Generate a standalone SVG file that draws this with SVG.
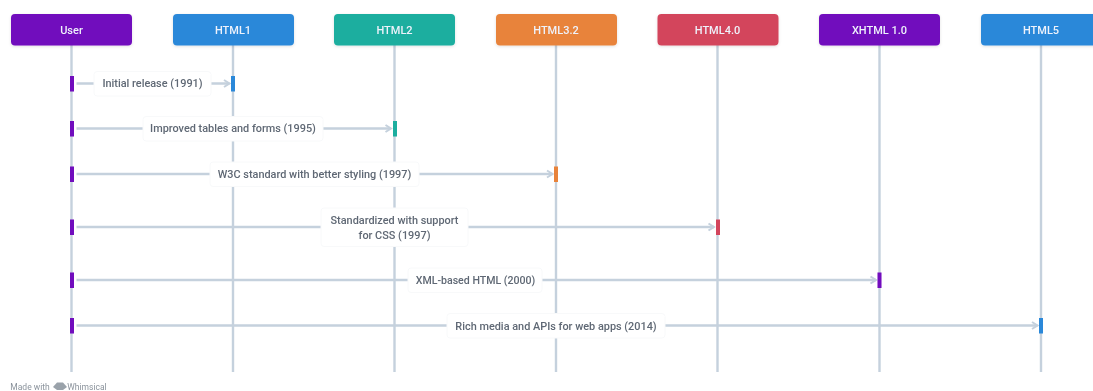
<svg xmlns="http://www.w3.org/2000/svg" width="1093" height="391" viewBox="0 0 1093 391">
<style>
text{font-family:"Roboto","Liberation Sans",sans-serif;text-anchor:middle}
.n{font-size:11px;font-weight:500;fill:#eef2fb}
.l{font-size:10.9px;fill:#5f6874;font-weight:500}
.life{stroke:#c5d1dd;stroke-width:2.4;fill:none}
.msg{stroke:#c5d1dd;stroke-width:2.4;fill:none}
.box{fill:#fff;stroke:#f8f9fa;stroke-width:1}
.p{fill:#7109bd}.b{fill:#2c88d9}.t{fill:#1aae9f}.o{fill:#e8833a}.r{fill:#d3455b}
.soft{filter:url(#s)}
.w{font-size:8.500px;fill:#8b939c}
</style>
<defs>
<filter id="sh" x="-10%" y="-20%" width="120%" height="150%"><feDropShadow dx="0" dy="1" stdDeviation="1.5" flood-color="#000" flood-opacity=".12"/></filter>
<filter id="s" x="-5%" y="-5%" width="110%" height="110%"><feGaussianBlur stdDeviation="0.4"/></filter>
<marker id="a" markerUnits="userSpaceOnUse" markerWidth="10" markerHeight="10" refX="7" refY="5" orient="auto"><path d="M1.5 1.5L7 5L1.5 8.5" fill="none" stroke="#c5d1dd" stroke-width="2"/></marker>
</defs>
<rect width="1093" height="391" fill="#fff"/>
<g class="soft">
<g id="lifelines">
<path class="life" d="M71.500 45V372"/><path class="life" d="M233 45V372"/><path class="life" d="M394.500 45V372"/><path class="life" d="M556 45V372"/><path class="life" d="M717.500 45V372"/><path class="life" d="M879.500 45V372"/><path class="life" d="M1041 45V372"/>
</g>
<g id="connectors">
<path class="msg" marker-end="url(#a)" d="M76.500 83.500H229.500"/>
<path class="msg" marker-end="url(#a)" d="M76.500 128.500H391"/>
<path class="msg" marker-end="url(#a)" d="M76.500 174H552.500"/>
<path class="msg" marker-end="url(#a)" d="M76.500 227H714"/>
<path class="msg" marker-end="url(#a)" d="M76.500 280H876"/>
<path class="msg" marker-end="url(#a)" d="M76.500 325.500H1037.500"/>
</g>
<g id="node-user"><rect class="p" x="11" y="14" width="121" height="31.500" rx="4" filter="url(#sh)"/><text class="n" x="71.500" y="33.500">User</text></g>
<g id="node-html1"><rect class="b" x="173" y="14" width="121" height="31.500" rx="4" filter="url(#sh)"/><text class="n" x="233" y="33.500">HTML1</text></g>
<g id="node-html2"><rect class="t" x="334" y="14" width="121" height="31.500" rx="4" filter="url(#sh)"/><text class="n" x="394.500" y="33.500">HTML2</text></g>
<g id="node-html32"><rect class="o" x="496" y="14" width="121" height="31.500" rx="4" filter="url(#sh)"/><text class="n" x="556" y="33.500">HTML3.2</text></g>
<g id="node-html40"><rect class="r" x="657.500" y="14" width="121" height="31.500" rx="4" filter="url(#sh)"/><text class="n" x="717.500" y="33.500">HTML4.0</text></g>
<g id="node-xhtml"><rect class="p" x="819" y="14" width="121" height="31.500" rx="4" filter="url(#sh)"/><text class="n" x="879.500" y="33.500">XHTML 1.0</text></g>
<g id="node-html5"><rect class="b" x="981" y="14" width="121" height="31.500" rx="4" filter="url(#sh)"/><text class="n" x="1041" y="33.500">HTML5</text></g>
<g id="activations">
<rect class="p" x="70" y="76" width="4" height="15.500"/><rect class="b" x="231" y="76" width="4" height="15.500"/>
<rect class="p" x="70" y="121" width="4" height="15.500"/><rect class="t" x="393" y="121" width="4" height="15.500"/>
<rect class="p" x="70" y="166.500" width="4" height="15.500"/><rect class="o" x="554" y="166.500" width="4" height="15.500"/>
<rect class="p" x="70" y="219.500" width="4" height="15.500"/><rect class="r" x="716" y="219.500" width="4" height="15.500"/>
<rect class="p" x="70" y="272.500" width="4" height="15.500"/><rect class="p" x="877.500" y="272.500" width="4" height="15.500"/>
<rect class="p" x="70" y="318" width="4" height="15.500"/><rect class="b" x="1039" y="318" width="4" height="15.500"/>
</g>
<g id="labels">
<rect class="box" x="94" y="71.500" width="117" height="24.500" rx="3"/><text class="l" x="152.500" y="87.300">Initial release (1991)</text>
<rect class="box" x="143" y="116.500" width="180" height="24.500" rx="3"/><text class="l" x="233" y="132.300">Improved tables and forms (1995)</text>
<rect class="box" x="210" y="162" width="209" height="24.500" rx="3"/><text class="l" x="314.500" y="177.800">W3C standard with better styling (1997)</text>
<rect class="box" x="321" y="208" width="147" height="38.500" rx="3"/><text class="l" x="394.500" y="223.500">Standardized with support</text><text class="l" x="394.500" y="238.500">for CSS (1997)</text>
<rect class="box" x="408" y="268" width="134" height="24.500" rx="3"/><text class="l" x="475.500" y="284" style="font-size:10.6px">XML-based HTML (2000)</text>
<rect class="box" x="447" y="313.500" width="218" height="24.500" rx="3"/><text class="l" x="556" y="329.500">Rich media and APIs for web apps (2014)</text>
</g>
<g id="watermark">
<text class="w" x="30" y="390">Made with</text>
<path d="M53 387L57 382.500H63L67 387L63 390H57Z" fill="#9aa2aa"/>
<text class="w" x="87" y="390">Whimsical</text>
</g>
</g>
</svg>
